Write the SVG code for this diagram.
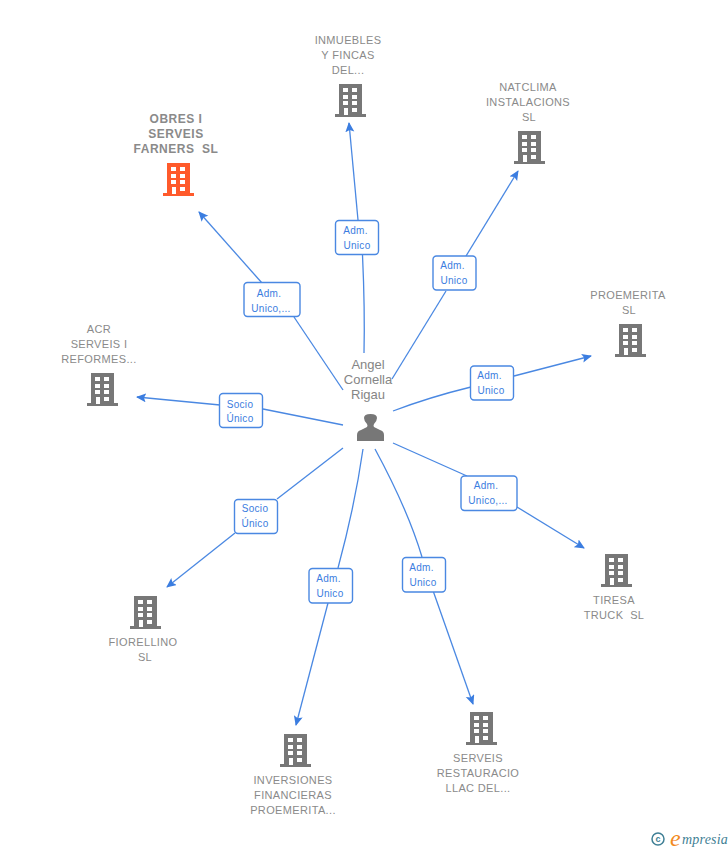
<svg xmlns="http://www.w3.org/2000/svg" xmlns:xlink="http://www.w3.org/1999/xlink" width="728" height="850" viewBox="0 0 728 850">
<style>
text{font-family:"Liberation Sans",Arial,sans-serif;white-space:pre}
.n{font-size:11px;letter-spacing:.35px;fill:#8a8a8a;text-anchor:middle}
.nb{font-size:12px;font-weight:bold;letter-spacing:.5px;fill:#8a8a8a;text-anchor:middle}
.c{font-size:13px;fill:#858585;text-anchor:middle}
.l{font-size:10px;letter-spacing:.3px;fill:#3b7de0;text-anchor:middle}
.e{fill:none;stroke:#4a88e2;stroke-width:1.3;marker-end:url(#a)}
.s{fill:none;stroke:#4a88e2;stroke-width:1.3}
.b{fill:#fff;stroke:#4a88e2;stroke-width:1.4}
.g{fill:#777}.o{fill:#ff5a2b}.w{fill:#fff}
</style>
<defs>
<marker id="a" markerUnits="userSpaceOnUse" markerWidth="11" markerHeight="10" refX="9" refY="4.500" orient="auto"><path d="M0 0L10 4.500L0 9L2 4.500Z" fill="#3b7de0"/></marker>
<g id="bld">
<path d="M-12 -17H11V13H15V16H-16V13H-12Z"/>
<path class="w" d="M-8 -13h5v4h-5zM1 -13h5v4h-5zM-8 -6h5v4h-5zM1 -6h5v4h-5zM-8 0h5v4h-5zM1 0h5v4h-5zM-7 7h4v7h-4zM1 7h5v4h-5z"/>
</g>
</defs>
<g id="connectors">
<path class="s" d="M343 390L294 317"/><path class="e" d="M262 283L199 212"/>
<path class="s" d="M364 353Q365 310 362.500 255"/><path class="e" d="M358 220L349 123"/>
<path class="s" d="M392 379L446 291"/><path class="e" d="M466 256L518 171"/>
<path class="s" d="M393 411Q430 397 471 387"/><path class="e" d="M514 376L591 356"/>
<path class="s" d="M343 425L263 409"/><path class="e" d="M220 405L137 397"/>
<path class="s" d="M393 443L467 476"/><path class="e" d="M517 507L584 548"/>
<path class="s" d="M343 448L277 499"/><path class="e" d="M235 533L167 587"/>
<path class="s" d="M363 449Q355 505 338 568"/><path class="e" d="M328 603L296 725"/>
<path class="s" d="M375 449Q408 510 422 557"/><path class="e" d="M433.500 592L473 704"/>
</g>
<g id="center">
<text class="c" x="368" y="369">Angel</text><text class="c" x="368" y="384">Cornella</text><text class="c" x="368" y="399">Rigau</text>
<path class="g" d="M357 441V435Q357 431 361 430L367 427Q368 426 367 424Q364 421 364 418Q364 414 370.500 414Q377 414 377 418Q377 421 374 424Q373 426 374 427L380 430Q384 431 384 435V441Z"/>
</g>
<g id="n-obres"><text class="nb" x="176" y="123">OBRES I</text><text class="nb" x="176" y="138">SERVEIS</text><text class="nb" x="176" y="153">FARNERS  SL</text><use href="#bld" x="179" y="180" class="o"/></g>
<g id="n-inmuebles"><text class="n" x="348" y="44">INMUEBLES</text><text class="n" x="348" y="59">Y FINCAS</text><text class="n" x="348" y="74">DEL...</text><use href="#bld" x="351" y="101" class="g"/></g>
<g id="n-natclima"><text class="n" x="528" y="91">NATCLIMA</text><text class="n" x="528" y="106">INSTALACIONS</text><text class="n" x="529" y="121">SL</text><use href="#bld" x="530" y="148" class="g"/></g>
<g id="n-proemerita"><text class="n" x="628" y="299">PROEMERITA</text><text class="n" x="629" y="314">SL</text><use href="#bld" x="631" y="341" class="g"/></g>
<g id="n-acr"><text class="n" x="99" y="333">ACR</text><text class="n" x="99" y="348">SERVEIS I</text><text class="n" x="99" y="363">REFORMES...</text><use href="#bld" x="103" y="390" class="g"/></g>
<g id="n-fiorellino"><use href="#bld" x="146" y="613" class="g"/><text class="n" x="143" y="646">FIORELLINO</text><text class="n" x="145" y="661">SL</text></g>
<g id="n-inversiones"><use href="#bld" x="296" y="751" class="g"/><text class="n" x="293" y="784">INVERSIONES</text><text class="n" x="293" y="799">FINANCIERAS</text><text class="n" x="293" y="814">PROEMERITA...</text></g>
<g id="n-serveis"><use href="#bld" x="482" y="729" class="g"/><text class="n" x="478" y="762">SERVEIS</text><text class="n" x="478" y="777">RESTAURACIO</text><text class="n" x="478" y="792">LLAC DEL...</text></g>
<g id="n-tiresa"><use href="#bld" x="617" y="571" class="g"/><text class="n" x="614" y="604">TIRESA</text><text class="n" x="614" y="619">TRUCK  SL</text></g>
<g id="edge-labels">
<rect class="b" x="244" y="282.500" width="56" height="34" rx="3.500"/><text class="l" x="269" y="297">Adm.</text><text class="l" x="271" y="312">Unico,...</text>
<rect class="b" x="335.500" y="220.500" width="43" height="34" rx="3.500"/><text class="l" x="355.500" y="234">Adm.</text><text class="l" x="357" y="249">Unico</text>
<rect class="b" x="433" y="256" width="43" height="34" rx="3.500"/><text class="l" x="452.500" y="269">Adm.</text><text class="l" x="454" y="284">Unico</text>
<rect class="b" x="470.500" y="366" width="43" height="34" rx="3.500"/><text class="l" x="489.500" y="379">Adm.</text><text class="l" x="491" y="394">Unico</text>
<rect class="b" x="219.500" y="393.500" width="43" height="34" rx="3.500"/><text class="l" x="240" y="407.500">Socio</text><text class="l" x="240" y="422">Único</text>
<rect class="b" x="461" y="476" width="56" height="34.500" rx="3.500"/><text class="l" x="486" y="489">Adm.</text><text class="l" x="488" y="504">Unico,...</text>
<rect class="b" x="234.500" y="499.500" width="43" height="34" rx="3.500"/><text class="l" x="255" y="512">Socio</text><text class="l" x="255" y="527">Único</text>
<rect class="b" x="309" y="568.500" width="43.500" height="34.500" rx="3.500"/><text class="l" x="328.500" y="582">Adm.</text><text class="l" x="330" y="597">Unico</text>
<rect class="b" x="402.500" y="557.500" width="43" height="34.500" rx="3.500"/><text class="l" x="421.500" y="571">Adm.</text><text class="l" x="423" y="586">Unico</text>
</g>
<g id="logo">
<circle cx="658" cy="839" r="6" fill="none" stroke="#3f7f95" stroke-width="1.500"/>
<text x="658" y="842" font-size="9" font-weight="bold" fill="#3f7f95" text-anchor="middle">c</text>
<text x="670" y="846" font-size="24" font-style="italic" fill="#f28a1e" style="font-family:'Liberation Serif',serif">e</text>
<text x="682" y="844" font-size="14" letter-spacing=".2" font-style="italic" fill="#3f7f95" style="font-family:'Liberation Serif',serif">mpresia</text>
</g>
</svg>
